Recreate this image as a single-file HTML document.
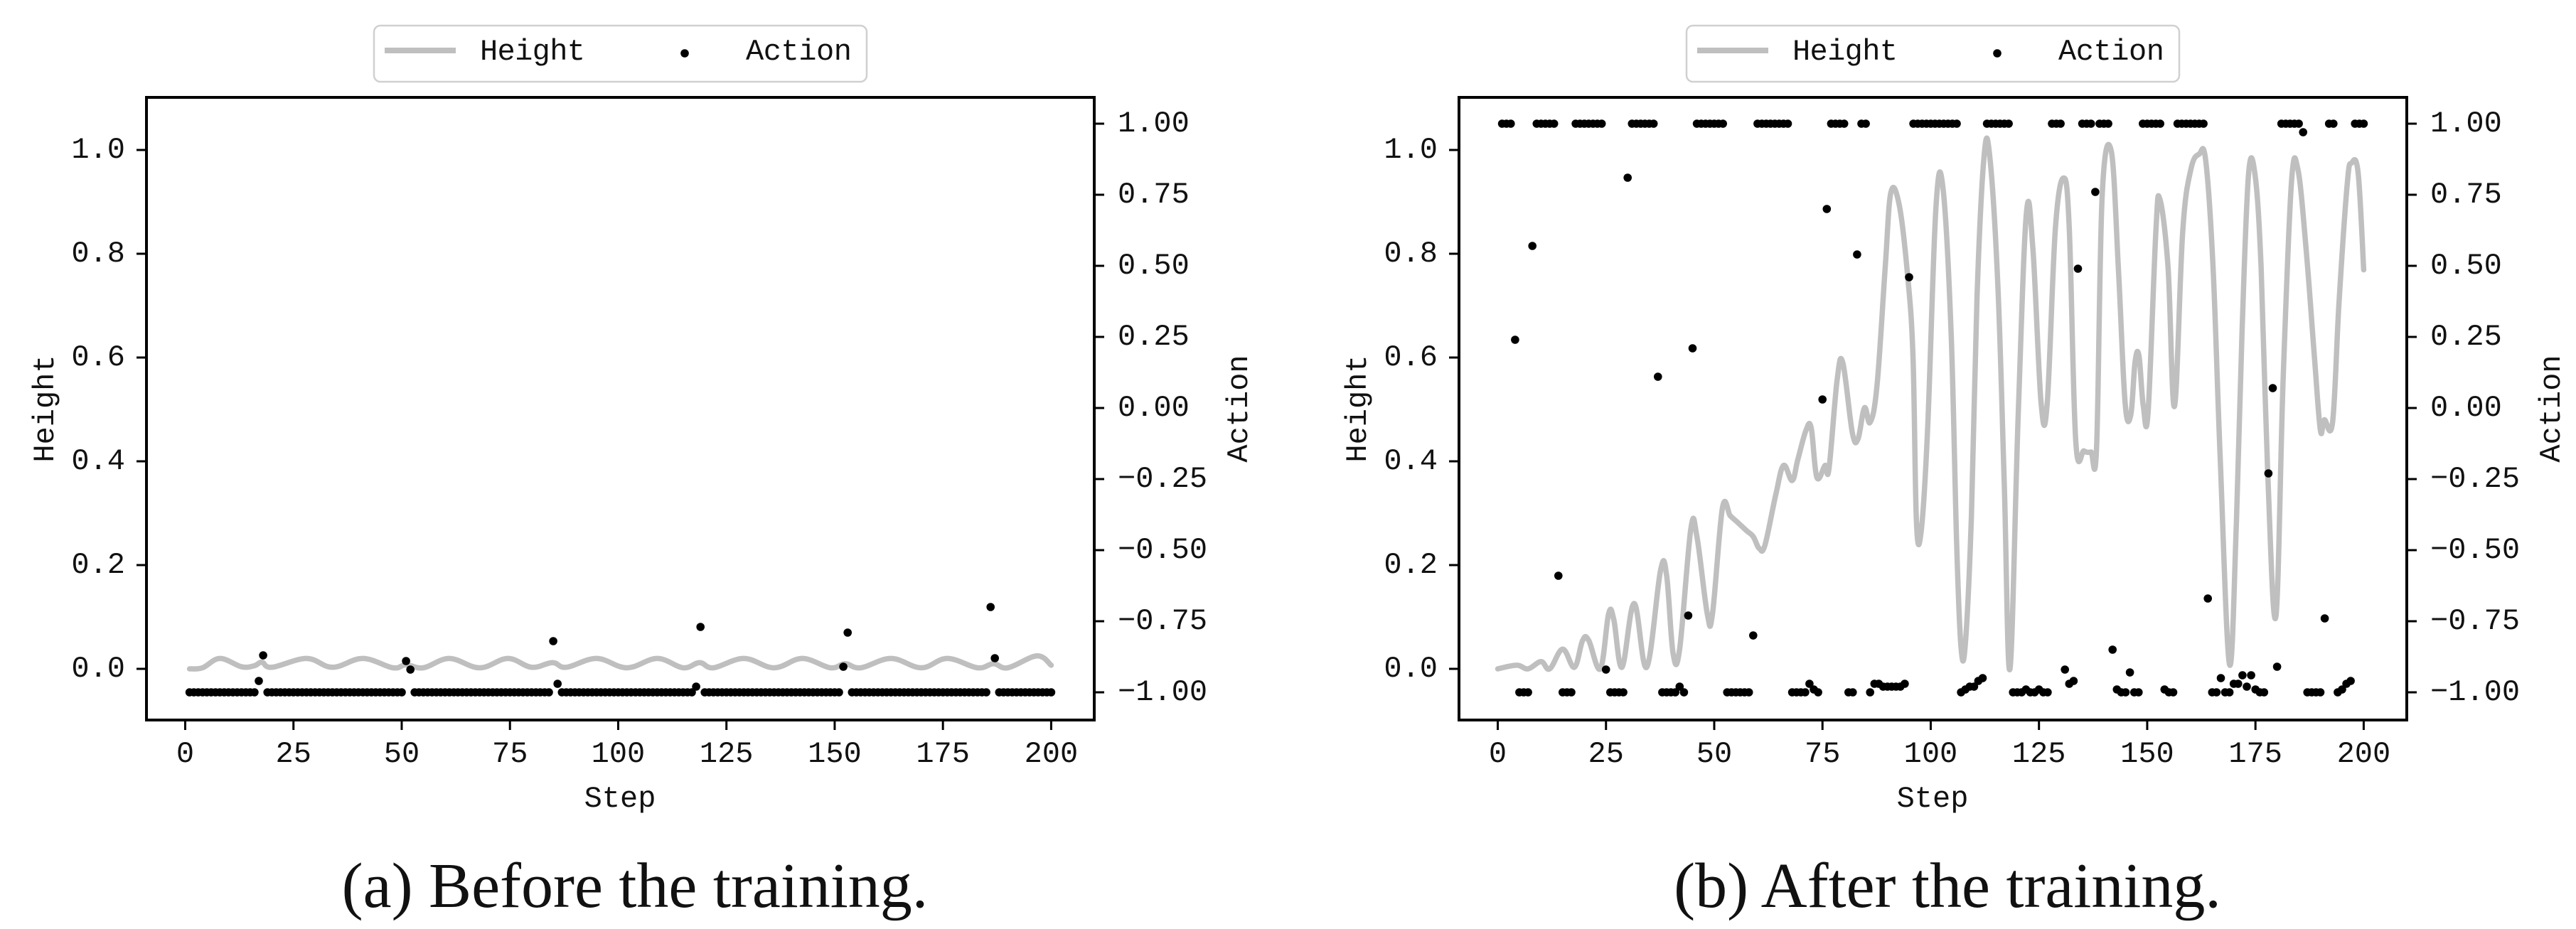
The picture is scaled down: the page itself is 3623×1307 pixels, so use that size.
<!DOCTYPE html>
<html><head><meta charset="utf-8"><style>
html,body{margin:0;padding:0;background:#fff;}
svg{display:block;}
text{font-family:"Liberation Mono","DejaVu Sans Mono",monospace;fill:#111;}
.cap{font-family:"Liberation Serif",serif;}
</style></head><body>
<svg id="fig" width="3623" height="1307" viewBox="0 0 3623 1307" xmlns="http://www.w3.org/2000/svg"></svg>
<script>
const xTicks = [0,25,50,75,100,125,150,175,200];
const hTicks = ["0.0","0.2","0.4","0.6","0.8","1.0"];
const hTickVals = [0,0.2,0.4,0.6,0.8,1.0];
const aTicks = ["\u22121.00","\u22120.75","\u22120.50","\u22120.25","0.00","0.25","0.50","0.75","1.00"];
const aTickVals = [-1,-0.75,-0.5,-0.25,0,0.25,0.5,0.75,1];

// ---- Panel (a): before training ----
const stepsA = [1,4,8,13,16,17.7,20,28,34,41,48,51,55,61,68,74.5,80,84.8,88,95,102,109,115,118.8,122,129,136,142.5,149,152.4,156,163,170,176,183,186.7,190,196.7,200];
const heightA = [0,0.002,0.02,0.004,0.006,0.013,0.003,0.02,0.003,0.02,0.002,0.008,0.002,0.02,0.002,0.02,0.003,0.012,0.003,0.02,0.002,0.02,0.002,0.012,0.002,0.02,0.002,0.02,0.002,0.01,0.002,0.02,0.002,0.02,0.002,0.01,0.002,0.025,0.007];

const actionA = [
-1,-1,-1,-1,-1,-1,-1,-1,-1,-1,-1,-1,-1,-1,-1,-1,-0.96,-0.87,-1,-1,
-1,-1,-1,-1,-1,-1,-1,-1,-1,-1,-1,-1,-1,-1,-1,-1,-1,-1,-1,-1,
-1,-1,-1,-1,-1,-1,-1,-1,-1,-1,-0.89,-0.92,-1,-1,-1,-1,-1,-1,-1,-1,
-1,-1,-1,-1,-1,-1,-1,-1,-1,-1,-1,-1,-1,-1,-1,-1,-1,-1,-1,-1,
-1,-1,-1,-1,-0.82,-0.97,-1,-1,-1,-1,-1,-1,-1,-1,-1,-1,-1,-1,-1,-1,
-1,-1,-1,-1,-1,-1,-1,-1,-1,-1,-1,-1,-1,-1,-1,-1,-1,-0.98,-0.77,-1,
-1,-1,-1,-1,-1,-1,-1,-1,-1,-1,-1,-1,-1,-1,-1,-1,-1,-1,-1,-1,
-1,-1,-1,-1,-1,-1,-1,-1,-1,-1,-1,-0.91,-0.79,-1,-1,-1,-1,-1,-1,-1,
-1,-1,-1,-1,-1,-1,-1,-1,-1,-1,-1,-1,-1,-1,-1,-1,-1,-1,-1,-1,
-1,-1,-1,-1,-1,-0.70,-0.88,-1,-1,-1,-1,-1,-1,-1,-1,-1,-1,-1,-1,-1
];

// ---- Panel (b): after training ----
const stepsB = [0,4.4,7,10,12,15,17.7,19.6,21,23.7,25.6,26.8,28.7,31.5,34.4,37.6,39,40.5,42,44.6,46,48.4,49.6,51.9,53.7,55.3,57.5,59,60.4,61.7,64.2,66,68,69.3,71.2,72.4,73.7,75.6,76.5,78.4,79.7,81.9,83.2,84.7,86,87.6,89.5,90.8,92.7,94.6,95.9,96.7,97.8,99.3,101.2,102.8,104.7,106,107,108,109.4,110.7,112.3,113.6,115.5,117,118.3,120.2,122.1,123.6,125.5,126.9,128.8,130.7,132,133.5,135.4,137,138.3,139.6,141.7,143.4,144.9,146.2,147.2,148.1,149.1,150.2,152,152.9,154.8,156.3,158.2,160.1,162,163.5,165.2,166.8,169,170.6,171.9,173.4,174.9,176.3,177.8,179.7,181.4,183.3,184.8,186.7,188.6,190,190.9,192.8,194.3,196.2,197.2,198.7,200];
const heightB = [0,0.007,0,0.014,0,0.038,0.003,0.055,0.055,0,0.106,0.095,0.003,0.126,0.003,0.19,0.18,0.03,0.038,0.27,0.255,0.106,0.106,0.31,0.295,0.283,0.266,0.255,0.232,0.238,0.335,0.392,0.363,0.403,0.46,0.464,0.369,0.392,0.386,0.558,0.59,0.455,0.443,0.503,0.475,0.546,0.775,0.918,0.895,0.763,0.603,0.283,0.266,0.466,0.889,0.929,0.649,0.238,0.041,0.049,0.295,0.718,0.986,0.99,0.741,0.352,0,0.489,0.878,0.809,0.512,0.512,0.849,0.946,0.849,0.438,0.42,0.418,0.426,0.912,0.998,0.763,0.512,0.489,0.592,0.603,0.506,0.495,0.843,0.906,0.775,0.506,0.843,0.963,0.992,0.981,0.775,0.42,0.009,0.283,0.649,0.952,0.952,0.775,0.386,0.1,0.558,0.935,0.963,0.809,0.603,0.46,0.48,0.475,0.706,0.935,0.975,0.957,0.769];

const actionB = [
1,1,1,0.24,-1,-1,-1,0.57,1,1,1,1,1,-0.59,-1,-1,-1,1,1,1,
1,1,1,1,-0.92,-1,-1,-1,-1,0.81,1,1,1,1,1,1,0.11,-1,-1,-1,
-1,-0.98,-1,-0.73,0.21,1,1,1,1,1,1,1,-1,-1,-1,-1,-1,-1,-0.80,1,
1,1,1,1,1,1,1,-1,-1,-1,-1,-0.97,-0.99,-1,0.03,0.70,1,1,1,1,
-1,-1,0.54,1,1,-1,-0.97,-0.97,-0.98,-0.98,-0.98,-0.98,-0.98,-0.97,0.46,1,1,1,1,1,
1,1,1,1,1,1,-1,-0.99,-0.98,-0.98,-0.96,-0.95,1,1,1,1,1,1,-1,-1,
-1,-0.99,-1,-1,-0.99,-1,-1,1,1,1,-0.92,-0.97,-0.96,0.49,1,1,1,0.76,1,1,
1,-0.85,-0.99,-1,-1,-0.93,-1,-1,1,1,1,1,1,-0.99,-1,-1,1,1,1,1,
1,1,1,-0.67,-1,-1,-0.95,-1,-1,-0.97,-0.97,-0.94,-0.98,-0.94,-0.99,-1,-1,-0.23,0.07,-0.91,
1,1,1,1,1,0.97,-1,-1,-1,-1,-0.74,1,1,-1,-0.99,-0.97,-0.96,1,1,1
];

const NS = "http://www.w3.org/2000/svg";
const svg = document.getElementById('fig');
function mk(tag, attrs, parent, txt){
  const e = document.createElementNS(NS, tag);
  for (const k in attrs) e.setAttribute(k, attrs[k]);
  if (txt !== undefined) e.textContent = txt;
  (parent || svg).appendChild(e);
  return e;
}
function smoothPath(pts){
  let d = 'M' + pts[0][0].toFixed(1) + ' ' + pts[0][1].toFixed(1);
  for (let i = 0; i < pts.length - 1; i++) {
    const p0 = pts[Math.max(0, i - 1)], p1 = pts[i], p2 = pts[i + 1], p3 = pts[Math.min(pts.length - 1, i + 2)];
    const t = 0.18;
    const c1x = p1[0] + (p2[0] - p0[0]) * t, c1y = p1[1] + (p2[1] - p0[1]) * t;
    const c2x = p2[0] - (p3[0] - p1[0]) * t, c2y = p2[1] - (p3[1] - p1[1]) * t;
    d += 'C' + c1x.toFixed(1) + ' ' + c1y.toFixed(1) + ' ' + c2x.toFixed(1) + ' ' + c2y.toFixed(1) + ' ' + p2[0].toFixed(1) + ' ' + p2[1].toFixed(1);
  }
  return d;
}

function panel(dx, id, steps, heights, actions, caption){
  const g = mk('g', {transform:'translate(' + dx + ',0)'});
  
  
  const L = 206, R = 1539, T = 137, B = 1013;
  const xmin = -8.95, xmax = 209.95;
  const X = v => L + (v - xmin) / (xmax - xmin) * (R - L);
  const YH = v => 941 - v * 730;
  const YA = v => 574 - v * 400;

  const pts = steps.map((s, i) => [X(s), YH(heights[i])]);
  const ln = mk('path', {d:smoothPath(pts), fill:'none', stroke:'#bfbfbf', 'stroke-width':7.5, 'stroke-linejoin':'round', 'stroke-linecap':'round'}, g);
  
  

  const dg = mk('g', {}, g);
  
  
  for (let i = 0; i < actions.length; i++) {
    const c = mk('circle', {cx:X(i + 1).toFixed(1), cy:YA(actions[i]).toFixed(1), r:5.8, fill:'#000'}, dg);
    
    
  }

  const fr = mk('rect', {x:L, y:T, width:R - L, height:B - T, fill:'none', stroke:'#000', 'stroke-width':4}, g);
  
  

  xTicks.forEach(v => {
    const x = X(v);
    mk('line', {x1:x, y1:B, x2:x, y2:B + 14, stroke:'#000', 'stroke-width':3}, g);
    const t = mk('text', {x:x, y:1061, 'font-size':42, 'text-anchor':'middle', 'dominant-baseline':'central'}, g, String(v));
    
    
  });
  hTickVals.forEach((v, i) => {
    const y = YH(v);
    mk('line', {x1:L - 14, y1:y, x2:L, y2:y, stroke:'#000', 'stroke-width':3}, g);
    const t = mk('text', {x:176, y:y, 'font-size':42, 'text-anchor':'end', 'dominant-baseline':'central'}, g, hTicks[i]);
    
    
  });
  aTickVals.forEach((v, i) => {
    const y = YA(v);
    mk('line', {x1:R, y1:y, x2:R + 14, y2:y, stroke:'#000', 'stroke-width':3}, g);
    const t = mk('text', {x:1572, y:y, 'font-size':42, 'text-anchor':'start', 'dominant-baseline':'central'}, g, aTicks[i]);
    
    
  });

  const xl = mk('text', {x:872, y:1124, 'font-size':42, 'text-anchor':'middle', 'dominant-baseline':'central'}, g, 'Step');
  
  
  const yl = mk('text', {x:0, y:0, 'font-size':42, 'text-anchor':'middle', 'dominant-baseline':'central', transform:'translate(64,575) rotate(-90)'}, g, 'Height');
  
  
  const yr = mk('text', {x:0, y:0, 'font-size':42, 'text-anchor':'middle', 'dominant-baseline':'central', transform:'translate(1743,575) rotate(-90)'}, g, 'Action');
  
  

  const lg = mk('g', {}, g);
  
  
  mk('rect', {x:526, y:36, width:693, height:79, rx:9, fill:'#fff', stroke:'#d0d0d0', 'stroke-width':2.5}, lg);
  const ll = mk('line', {x1:541, y1:71, x2:641, y2:71, stroke:'#bfbfbf', 'stroke-width':8}, lg);
  
  
  const lt1 = mk('text', {x:675, y:73, 'font-size':42, 'dominant-baseline':'central', textLength:148}, lg, 'Height');
  
  
  const ld = mk('circle', {cx:963, cy:75, r:5.8, fill:'#000'}, lg);
  
  
  const lt2 = mk('text', {x:1049, y:73, 'font-size':42, 'dominant-baseline':'central', textLength:149}, lg, 'Action');
  
  

  const cp = mk('text', {x:893, y:1276, 'font-size':90, 'text-anchor':'middle', 'class':'cap'}, g, caption);
  
  
}

panel(0, 'a', stepsA, heightA, actionA, '(a) Before the training.');
panel(1846, 'b', stepsB, heightB, actionB, '(b) After the training.');
</script>
</body></html>
